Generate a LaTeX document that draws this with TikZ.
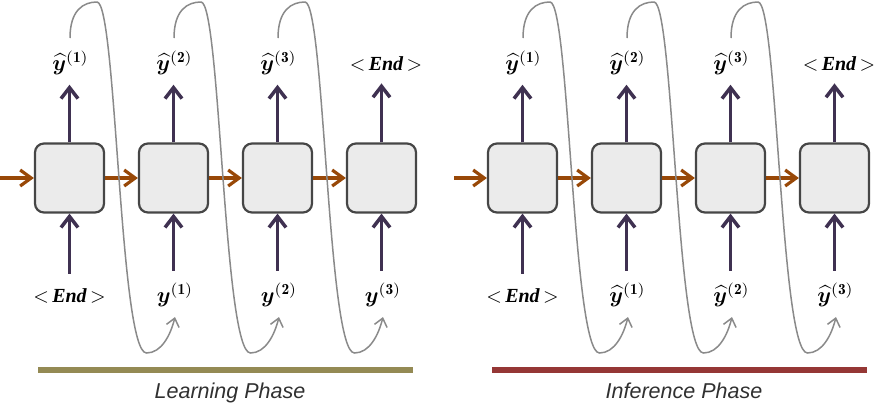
\documentclass[tikz,border=0pt]{standalone}
\usepackage{amsmath,bm}
\usepackage{fontspec}
\newfontfamily\capfont{Liberation Sans}
\newfontfamily\endfont{Liberation Serif}
\usetikzlibrary{arrows.meta}
\definecolor{boxfill}{HTML}{EBEBEB}
\definecolor{boxline}{HTML}{464646}
\definecolor{upcol}{HTML}{3F3151}
\definecolor{rtcol}{HTML}{984807}
\definecolor{fbcol}{HTML}{8A8A8A}
\definecolor{olivebar}{HTML}{948A54}
\definecolor{redbar}{HTML}{953735}
\definecolor{captxt}{HTML}{303030}
\newcommand\yh[1]{$\widehat{\bm{y}}^{\mathbf{(#1)}}$}
\newcommand\yy[1]{$\bm{y}^{\mathbf{(#1)}}$}
\newcommand\eos{${<}\mkern3mu\text{\endfont\bfseries\itshape End}\mkern3mu{>}$}
\begin{document}
\begin{tikzpicture}[x=1pt,y=-1pt,
  cell/.style={draw=boxline, fill=boxfill, line width=2.2pt, rounded corners=9pt,
    minimum width=69pt, minimum height=69pt, inner sep=0pt},
  lab/.style={inner sep=0pt, anchor=base, scale=2, font=\fontsize{10}{12}\selectfont},
  big/.style={scale=1.1},
  toplab/.style={lab, text height=5pt, text depth=6.5pt},
  botlab/.style={lab, text height=14pt, text depth=1.5pt},
  uparrow/.style={draw=upcol, line width=3.5pt, -{Straight Barb[length=11pt,width=17pt]}},
  rtarrow/.style={draw=rtcol, line width=3.2pt, -{Straight Barb[length=11pt,width=16pt]}},
  fbarrow/.style={draw=fbcol, line width=1.5pt, -{Straight Barb[length=8pt,width=13pt]}},
  bar/.style={line width=5.5pt},
  captext/.style={anchor=base, inner sep=0pt, text=captxt, font=\capfont\itshape\fontsize{21.5}{24}\selectfont}]
\useasboundingbox (0,0) rectangle (879,416);

% boxes
\foreach \p/\dx in {L/0, R/453} {
  \foreach \i in {1,...,4} {
    \node[cell] (\p b\i) at ({69.5+104*(\i-1)+\dx},178) {};
  }
}

% top labels
\foreach \p/\dx in {L/0, R/453} {
  \node[toplab,big] (\p t1) at ({70.5+\dx},70) {\yh{1}};
  \node[toplab,big] (\p t2) at ({174.5+\dx},70) {\yh{2}};
  \node[toplab,big] (\p t3) at ({278.5+\dx},70) {\yh{3}};
  \node[toplab] (\p t4) at ({386+\dx},70) {\eos};
}

% bottom labels
\node[botlab] (Lu1) at (69.5,302) {\eos};
\node[botlab,big] (Lu2) at (175,302) {\yy{1}};
\node[botlab,big] (Lu3) at (279,302) {\yy{2}};
\node[botlab,big] (Lu4) at (383,302) {\yy{3}};
\node[botlab] (Ru1) at (522.5,302) {\eos};
\node[botlab,big] (Ru2) at (627.5,302) {\yh{1}};
\node[botlab,big] (Ru3) at (731.5,302) {\yh{2}};
\node[botlab,big] (Ru4) at (835.5,302) {\yh{3}};

% incoming coordinates
\coordinate (Lin) at (0,178);
\coordinate (Rin) at (454,178);

% arrows
\foreach \p in {L,R} {
  \foreach \i in {1,...,4} {
    \draw[uparrow] (\p b\i.north) -- (\p b\i.north |- \p t\i.south);
    \draw[uparrow] (\p b\i.south |- \p u\i.north) -- (\p b\i.south);
  }
  \draw[rtarrow] (\p in) -- (\p b1);
  \draw[rtarrow] (\p b1) -- (\p b2);
  \draw[rtarrow] (\p b2) -- (\p b3);
  \draw[rtarrow] (\p b3) -- (\p b4);
}

% feedback curves
\foreach \p/\dx in {L/0, R/453} {
  \foreach \i in {1,2,3} {
    \pgfmathsetmacro{\x}{69.5+104*(\i-1)+\dx}
    \coordinate (\p s\i) at ({\x+0.5},38);
    \coordinate (\p e\i) at ({\x+105.5},317);
    \draw[fbarrow] (\p s\i) .. controls ({\x+0.5},10) and ({\x+14},2) .. ({\x+27.5},2)
      .. controls ({\x+47},2) and ({\x+50},353) .. ({\x+77},353)
      .. controls ({\x+92},353) and ({\x+101},335) .. (\p e\i);
  }
}

% bars and captions
\draw[bar, olivebar] (38,370) -- (413,370);
\draw[bar, redbar] (492,370) -- (867,370);
\node[captext] (lcap) at (230,398) {Learning Phase};
\node[captext] (rcap) at (684,398) {Inference Phase};
\end{tikzpicture}
\end{document}
